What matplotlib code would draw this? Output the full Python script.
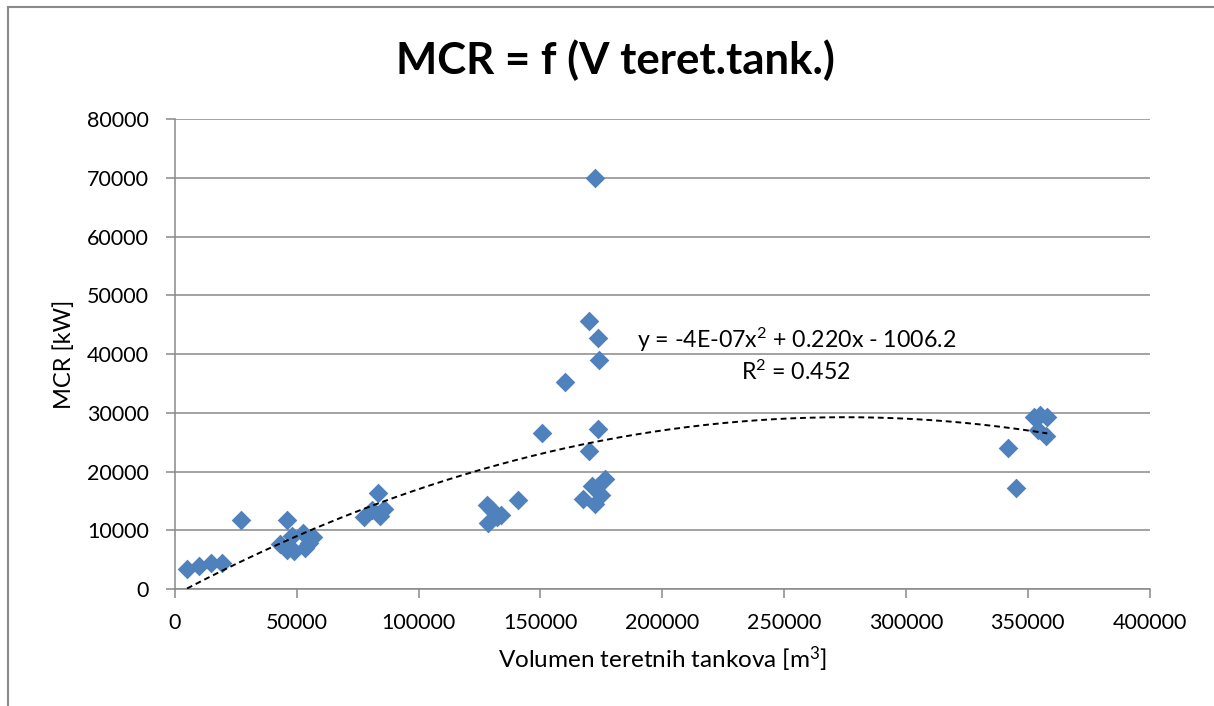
import matplotlib
matplotlib.use("Agg")
import matplotlib.pyplot as plt
from matplotlib.lines import Line2D
import numpy as np

plt.rcParams['font.family'] = ['Lato', 'DejaVu Sans']
plt.rcParams['mathtext.fontset'] = 'custom'
plt.rcParams['mathtext.rm'] = 'Lato'
plt.rcParams['mathtext.it'] = 'Lato'
plt.rcParams['mathtext.bf'] = 'Lato:bold'

# cargo tank volume [m3] vs MCR [kW]
volumen = [5000, 10000, 15000, 19500, 27000, 46000,
           43000, 46000, 49000, 48000, 52500, 53500, 56500, 55000,
           77500, 81000, 83500, 84000, 86000,
           128000, 130000, 128500, 132000, 134000, 141000,
           150500, 160000, 170000, 173500, 174000, 173500, 170000, 172500,
           167500, 171000, 176500, 175000, 172500, 173000,
           342000, 345000, 352500, 355000, 358000, 354000, 357500]
mcr = [3400, 4000, 4500, 4400, 11800, 11800,
       7600, 6600, 6500, 9000, 9600, 7000, 8800, 7800,
       12200, 13400, 16300, 12500, 13700,
       14300, 13500, 11200, 12300, 12600, 15200,
       26500, 35200, 45700, 42800, 39000, 27200, 23500, 70000,
       15300, 17500, 18700, 16000, 14500, 17200,
       24000, 17200, 29300, 29700, 29300, 27000, 26000]

# trendline coefficients as printed on the chart
trend_coef = [-4e-7, 0.220, -1006.2]
trend_text = r"y = -4E-07x$^{\mathrm{2}}$ + 0.220x - 1006.2"
r2_text = r"R$^{\mathrm{2}}$ = 0.452"

x_ticks = list(range(0, 400001, 50000))
y_ticks = list(range(0, 80001, 10000))

grid_col = "#898989"
fig = plt.figure(figsize=(12.14, 7.06), dpi=100)
ax = fig.add_axes([0.144, 0.1657, 0.803, 0.6657])

ax.scatter(volumen, mcr, marker="D", s=100, color="#4F81BD", zorder=3, linewidths=0)

xs = np.linspace(min(volumen), max(volumen), 200)
ax.plot(xs, np.polyval(trend_coef, xs), color="black", linestyle=(0, (3, 2)), linewidth=1.4, zorder=4)

ax.set_xlim(0, 400000)
ax.set_ylim(0, 80000)
ax.set_xticks(x_ticks)
ax.set_yticks(y_ticks)
ax.grid(axis="y", color=grid_col, linewidth=1.1)
ax.set_axisbelow(True)
for side in ["top", "right"]:
    ax.spines[side].set_visible(False)
for side in ["left", "bottom"]:
    ax.spines[side].set_color(grid_col)
    ax.spines[side].set_linewidth(1.1)
ax.tick_params(axis="y", length=6.5, width=1.1, color=grid_col, pad=12, labelsize=15.5)
ax.tick_params(axis="x", length=6.5, width=1.1, color=grid_col, pad=11, labelsize=15.5)

ax.set_xlabel(r"Volumen teretnih tankova [m$^{\mathrm{3}}$]", fontsize=17.5, labelpad=8)
ax.set_ylabel("MCR [kW]", fontsize=17, labelpad=9)

ax.text(0.638, 0.513, trend_text, transform=ax.transAxes, ha="center", va="baseline", fontsize=16.7)
ax.text(0.637, 0.445, r2_text, transform=ax.transAxes, ha="center", va="baseline", fontsize=16.7)

fig.text(0.507, 0.915, "MCR = f (V teret.tank.)", ha="center", va="center",
         fontsize=31.5, fontweight="bold")

# outer chart frame (only left and top edges visible)
fig.add_artist(Line2D([0.0066, 0.0066], [0, 0.990], transform=fig.transFigure, color="#8a8a8a", linewidth=1.5))
fig.add_artist(Line2D([0.0066, 1], [0.990, 0.990], transform=fig.transFigure, color="#8a8a8a", linewidth=1.5))

fig.savefig("out.png", dpi=100)
